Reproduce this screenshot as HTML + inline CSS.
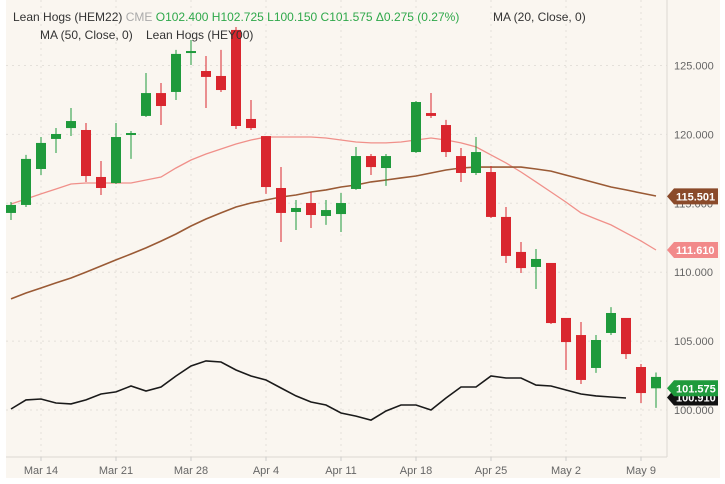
<!DOCTYPE html>
<html><head><meta charset="utf-8"><style>
body{margin:0;background:#fff;}
svg{display:block;font-family:"Liberation Sans",sans-serif;}
</style></head><body>
<svg id="chart" width="725" height="484" xmlns="http://www.w3.org/2000/svg">
<rect x="6" y="0" width="714" height="478" fill="#faf6f0"/>
<g id="grid"></g>
<line x1="667" y1="0" x2="667" y2="457" stroke="#dcd8d2"/>
<line x1="6" y1="457" x2="667" y2="457" stroke="#dcd8d2"/>
<g id="yticks"></g>
<g id="xticks"></g>
<g id="lines"></g>
<g id="candles"></g>
<g id="tags"></g>
<g font-size="12">
<text x="13" y="21" fill="#333">Lean Hogs (HEM22) <tspan fill="#aaa">CME</tspan> <tspan fill="#2ea84a">O102.400 H102.725 L100.150 C101.575 Δ0.275 (0.27%)</tspan></text>
<text x="493" y="21" fill="#333">MA (20, Close, 0)</text>
<text x="40" y="39" fill="#333">MA (50, Close, 0)</text>
<text x="146" y="39" fill="#333">Lean Hogs (HEY00)</text>
</g>
</svg>
<script>
const opens=[114.30,114.88,117.49,119.67,120.46,120.32,116.91,116.47,119.96,121.34,123.00,123.08,125.91,124.60,124.24,127.58,121.12,119.88,116.11,114.37,115.02,114.08,114.22,116.04,118.43,117.56,null,118.72,121.55,120.68,118.43,117.20,117.27,114.01,111.47,110.38,110.67,106.68,105.44,103.05,105.59,106.68,103.12,102.40];
const highs=[115.09,118.51,119.81,120.46,121.92,120.83,118.07,120.83,120.25,124.46,123.73,126.13,126.85,125.69,126.13,127.79,122.50,119.88,117.63,115.24,115.82,115.24,115.75,119.09,118.58,118.58,null,122.42,123.00,121.05,119.01,119.81,117.71,114.73,112.19,111.68,110.67,106.68,106.39,105.44,107.47,106.68,103.34,102.725];
const lows=[113.79,114.73,117.05,118.65,119.88,116.55,115.60,116.40,118.22,121.26,120.68,122.50,125.04,121.92,123.08,120.39,120.32,115.68,112.19,113.06,113.21,113.43,112.92,115.97,117.05,116.26,null,118.65,121.19,118.36,116.55,117.05,113.93,110.67,109.94,108.78,106.24,102.90,101.89,102.69,105.44,103.70,100.51,100.15];
const closes=[114.88,118.22,119.38,120.03,120.97,116.98,116.11,119.81,120.10,123.00,122.06,125.84,126.05,124.17,123.22,120.61,120.46,116.18,114.30,114.66,114.15,114.51,115.02,118.43,117.63,118.43,null,122.35,121.34,118.72,117.20,118.72,114.01,111.18,110.30,110.96,106.31,104.93,102.18,105.08,107.04,104.06,101.23,101.575];
const ma20=[114.95,115.31,115.68,116.04,116.40,116.47,116.47,116.47,116.47,116.69,116.91,117.56,118.14,118.58,118.94,119.30,119.59,119.81,119.81,119.81,119.81,119.74,119.59,119.45,119.38,119.38,119.45,119.59,119.74,119.59,119.38,119.09,118.51,117.93,117.27,116.55,115.82,115.09,114.30,113.86,113.43,112.85,112.27,111.61];
const ma50=[108.06,108.49,108.85,109.22,109.58,110.01,110.45,110.89,111.32,111.76,112.26,112.77,113.35,113.86,114.30,114.73,115.02,115.24,115.46,115.60,115.82,115.97,116.18,116.33,116.55,116.69,116.84,116.98,117.20,117.42,117.56,117.63,117.63,117.63,117.63,117.49,117.34,117.05,116.76,116.47,116.18,115.97,115.75,115.53];
const hey00=[100.07,100.73,100.80,100.51,100.44,100.73,101.16,101.31,101.74,101.38,101.67,102.47,103.19,103.56,103.48,102.90,102.47,102.18,101.60,101.02,100.58,100.36,99.78,99.56,99.27,99.93,100.36,100.36,100.00,100.87,101.67,101.67,102.47,102.32,102.32,101.81,101.74,101.45,101.16,101.02,100.94,100.87,null,null];
const yTickVals=[100,105,110,115,120,125];
const yTickLabels=["100.000","105.000","110.000","115.000","120.000","125.000"];
const xTickSlots=[2,7,12,17,22,27,32,37,42];
const xTickLabels=["Mar 14","Mar 21","Mar 28","Apr 4","Apr 11","Apr 18","Apr 25","May 2","May 9"];
const tagVals=[115.501,111.610,100.910,101.575];
const tagLabels=["115.501","111.610","100.910","101.575"];
const tagColors=["#8a4a2a","#f28a8a","#111111","#1f9a3c"];

const NS="http://www.w3.org/2000/svg";
const X=i=>11+i*15;
const Y=v=>410-(v-100)*13.78;
function mk(tag,attrs,parent){const e=document.createElementNS(NS,tag);for(const k in attrs)e.setAttribute(k,attrs[k]);parent.appendChild(e);return e;}
const grid=document.getElementById('grid'),yt=document.getElementById('yticks'),xt=document.getElementById('xticks');
yTickVals.forEach((v,i)=>{
  const l=mk('line',{x1:6,x2:667,y1:Y(v),y2:Y(v),stroke:'#e4e0da','stroke-dasharray':'2,4'},grid);
  
  
  const t=mk('text',{x:674,y:Y(v)+4,'font-size':'11',fill:'#666'},yt);
  t.textContent=yTickLabels[i];
  
  
});
xTickSlots.forEach((s,i)=>{
  const l=mk('line',{x1:X(s),x2:X(s),y1:0,y2:457,stroke:'#e4e0da','stroke-dasharray':'2,4'},grid);
  
  
  const tk=mk('line',{x1:X(s),x2:X(s),y1:457,y2:461,stroke:'#ccc'},xt);
  
  
  const t=mk('text',{x:X(s),y:474,'font-size':'11',fill:'#666','text-anchor':'middle'},xt);
  t.textContent=xTickLabels[i];
  
  
});
const lines=document.getElementById('lines');
function drawLine(arr,color,w,name){
  let d='';let pen=false;
  arr.forEach((v,i)=>{if(v==null){pen=false;return;}d+=(pen?'L':'M')+X(i)+','+Y(v).toFixed(1);pen=true;});
  const p=mk('path',{d:d,fill:'none',stroke:color,'stroke-width':w},lines);
  
  
}
drawLine(ma20,'#f0908a',1.3,'ma20-line');
drawLine(ma50,'#9a5a35',1.6,'ma50-line');
drawLine(hey00,'#1a1a1a',1.6,'hey00-line');
const cg=document.getElementById('candles');
opens.forEach((o,i)=>{
  if(o==null)return;
  const c=closes[i],up=(i===opens.length-1)?true:c>=o,col=up?'#1f9a3c':'#d9262e';
  const w=mk('line',{x1:X(i),x2:X(i),y1:Y(highs[i]),y2:Y(lows[i]),stroke:col,'stroke-width':1},cg);
  
  
  const top=Math.min(Y(o),Y(c)),h=Math.max(2,Math.abs(Y(o)-Y(c)));
  const r=mk('rect',{x:X(i)-5,y:top,width:10,height:h,fill:col},cg);
  
  
});
const tg=document.getElementById('tags');
tagVals.forEach((v,i)=>{
  const y=Y(v);
  const p=mk('path',{d:`M667,${y} L674,${y-8} L718,${y-8} L718,${y+8} L674,${y+8} Z`,fill:tagColors[i]},tg);
  
  
  const t=mk('text',{x:676,y:y+4,'font-size':'11','font-weight':'bold',fill:'#fff'},tg);
  t.textContent=tagLabels[i];
  
  
});
</script>
</body></html>
